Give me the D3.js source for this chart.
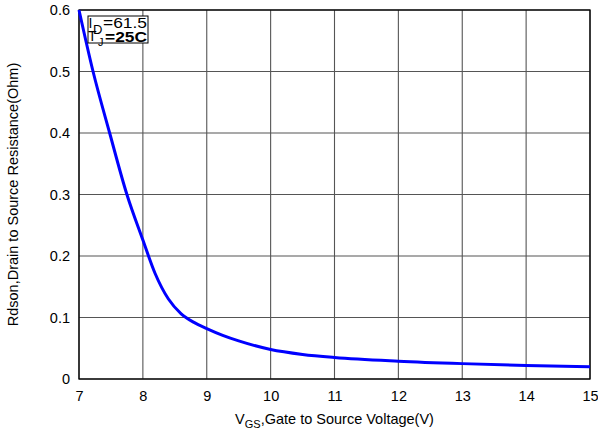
<!DOCTYPE html>
<html>
<head>
<meta charset="utf-8">
<script src="https://cdn.jsdelivr.net/npm/d3@7"></script>
<style>
  html, body { margin: 0; padding: 0; background: #fff; }
  svg { display: block; font-family: "Liberation Sans", Arial, Helvetica, sans-serif; }
</style>
</head>
<body>
<svg id="chart" width="598" height="436"></svg>
<script>
// Rdson vs gate-source voltage, ID = 61.5 A, TJ = 25 C
const vgs   = [7.0, 7.22, 7.48, 7.75, 8.0, 8.19, 8.4, 8.6, 8.8, 9.0, 9.25, 9.5, 10, 10.5, 11, 12, 13, 14, 15];
const rdson = [0.6, 0.5, 0.4, 0.3, 0.226, 0.172, 0.13, 0.106, 0.092, 0.082, 0.071, 0.062, 0.048, 0.040, 0.035, 0.029, 0.025, 0.022, 0.020];
const xTicks = [7, 8, 9, 10, 11, 12, 13, 14, 15];
const yTicks = [0, 0.1, 0.2, 0.3, 0.4, 0.5, 0.6];

const svg = d3.select("#chart");
const m = { left: 79, right: 8, top: 10, bottom: 57 };
const W = 598, H = 436;

const x = d3.scaleLinear().domain([7, 15]).range([m.left, W - m.right]);
const y = d3.scaleLinear().domain([0, 0.6]).range([H - m.bottom, m.top]);

// grid
svg.append("g")
  .selectAll("line").data(xTicks).join("line")
  .attr("x1", d => x(d)).attr("x2", d => x(d))
  .attr("y1", y(0)).attr("y2", y(0.6))
  .attr("stroke", "#555").attr("stroke-width", 1.1);
svg.append("g")
  .selectAll("line").data(yTicks).join("line")
  .attr("x1", x(7)).attr("x2", x(15))
  .attr("y1", d => y(d)).attr("y2", d => y(d))
  .attr("stroke", "#555").attr("stroke-width", 1.1);

// axes (labels only)
const xAxis = svg.append("g")
  .attr("transform", `translate(0,${y(0)})`)
  .call(d3.axisBottom(x).tickValues(xTicks).tickSize(0).tickPadding(12).tickFormat(d3.format("d")));
const yAxis = svg.append("g")
  .attr("transform", `translate(${x(7)},0)`)
  .call(d3.axisLeft(y).tickValues(yTicks).tickSize(0).tickPadding(9).tickFormat(d => d === 0 ? "0" : d3.format(".1f")(d)));
[xAxis, yAxis].forEach(a => {
  a.select(".domain").remove();
  a.selectAll("text").attr("font-size", 14.5).attr("fill", "#000")
    .attr("font-family", "'Liberation Sans', Arial, sans-serif");
});

// frame
svg.append("rect")
  .attr("x", x(7)).attr("y", y(0.6))
  .attr("width", x(15) - x(7)).attr("height", y(0) - y(0.6))
  .attr("fill", "none").attr("stroke", "#000").attr("stroke-width", 1.3);

// curve
const line = d3.line().x((d, i) => x(vgs[i])).y(d => y(d)).curve(d3.curveMonotoneX);
svg.append("path")
  .datum(rdson)
  .attr("d", line)
  .attr("fill", "none").attr("stroke", "#0000ff").attr("stroke-width", 3);

// annotation box
const bx = x(7) + 9, by = y(0.6) + 6;
svg.append("rect").attr("x", bx).attr("y", by).attr("width", 60).attr("height", 27)
  .attr("fill", "#fff").attr("stroke", "#000").attr("stroke-width", 1);
const ann = svg.append("g").attr("fill", "#000");
ann.append("text").attr("x", bx + 0.5).attr("y", by + 12).attr("font-size", 14).text("I");
ann.append("text").attr("x", bx + 5).attr("y", by + 18).attr("font-size", 13)
  .attr("textLength", 9).text("D");
ann.append("text").attr("x", bx + 15).attr("y", by + 12).attr("font-size", 14)
  .attr("textLength", 44).attr("lengthAdjust", "spacingAndGlyphs").text("=61.5");
ann.append("text").attr("x", bx).attr("y", by + 25).attr("font-size", 14).text("T");
ann.append("text").attr("x", bx + 10).attr("y", by + 30).attr("font-size", 11).text("J");
ann.append("text").attr("x", bx + 17).attr("y", by + 26).attr("font-size", 14)
  .attr("font-weight", "bold").attr("textLength", 42).attr("lengthAdjust", "spacingAndGlyphs").text("=25C");

// axis titles
const xt = svg.append("text")
  .attr("x", (x(7) + x(15)) / 2).attr("y", 424)
  .attr("text-anchor", "middle").attr("font-size", 14.5);
xt.append("tspan").text("V");
xt.append("tspan").attr("dy", 4).attr("font-size", 11).text("GS");
xt.append("tspan").attr("dy", -4).text(",Gate to Source Voltage(V)");

svg.append("text")
  .attr("transform", `translate(18,${(y(0) + y(0.6)) / 2}) rotate(-90)`)
  .attr("text-anchor", "middle").attr("font-size", 14.5)
  .text("Rdson,Drain to Source Resistance(Ohm)");
</script>
</body>
</html>
